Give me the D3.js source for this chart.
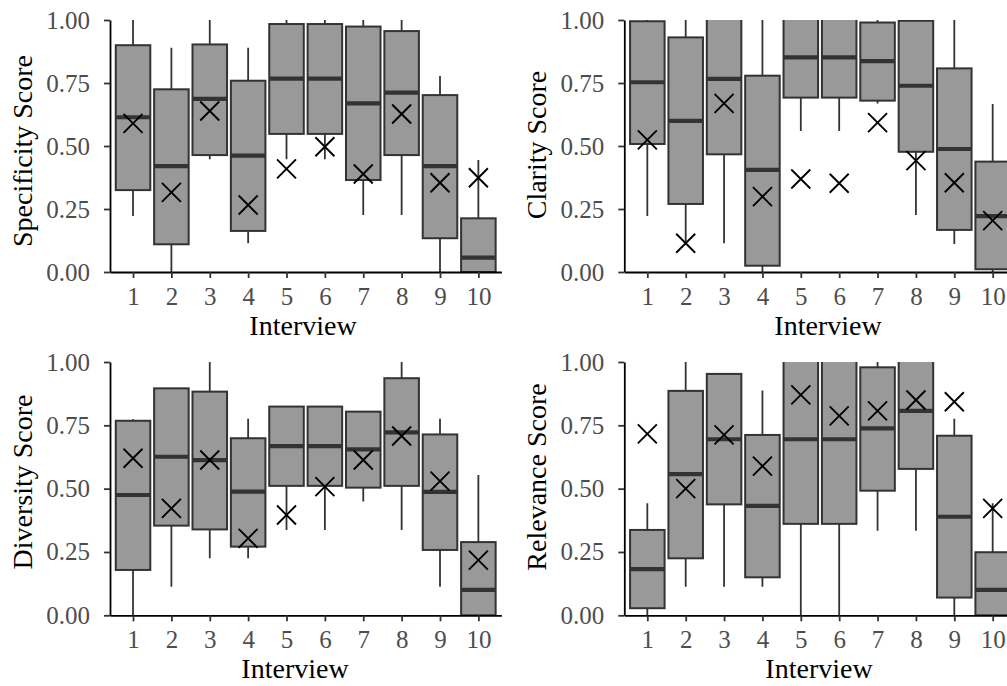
<!DOCTYPE html>
<html>
<head>
<meta charset="utf-8">
<script src="https://cdn.jsdelivr.net/npm/d3@7"></script>
<style>
  body { margin: 0; background: #fff; }
  text { font-family: "Liberation Serif", "Times New Roman", serif; }
</style>
</head>
<body>
<script>
// interviews on the x axis
var interviews = [1, 2, 3, 4, 5, 6, 7, 8, 9, 10];
var yTicks = [0, 0.25, 0.5, 0.75, 1];

// Specificity: whisker low, Q1, median, Q3, whisker high, mean (x marker)
var specLow  = [0.222, 0.0, 0.447, 0.114, 0.447, 0.447, 0.226, 0.226, 0.0, 0.0];
var specQ1   = [0.325, 0.11, 0.464, 0.163, 0.548, 0.548, 0.365, 0.464, 0.134, 0.0];
var specMed  = [0.614, 0.42, 0.687, 0.462, 0.767, 0.767, 0.669, 0.712, 0.42, 0.057];
var specQ3   = [0.90, 0.725, 0.903, 0.759, 0.984, 0.984, 0.974, 0.956, 0.702, 0.213];
var specHigh = [1.0, 0.89, 1.0, 0.89, 1.0, 1.0, 1.0, 1.0, 0.778, 0.444];
var specMean = [0.59, 0.316, 0.639, 0.266, 0.409, 0.497, 0.389, 0.627, 0.354, 0.374];

// Clarity
var clarLow  = [0.222, 0.111, 0.114, 0.0, 0.56, 0.56, 0.669, 0.226, 0.111, 0.0];
var clarQ1   = [0.508, 0.27, 0.467, 0.025, 0.692, 0.692, 0.68, 0.477, 0.167, 0.011];
var clarMed  = [0.753, 0.60, 0.766, 0.405, 0.852, 0.852, 0.837, 0.739, 0.488, 0.222];
var clarQ3   = [0.995, 0.931, 1.03, 0.779, 1.03, 1.03, 0.99, 0.997, 0.808, 0.438];
var clarHigh = [1.0, 1.0, 1.03, 1.0, 1.03, 1.03, 1.0, 1.0, 1.0, 0.667];
var clarMean = [0.524, 0.114, 0.669, 0.299, 0.369, 0.352, 0.593, 0.442, 0.354, 0.204];

// Diversity
var divLow  = [0.0, 0.113, 0.225, 0.225, 0.337, 0.337, 0.449, 0.337, 0.113, 0.0];
var divQ1   = [0.179, 0.354, 0.339, 0.271, 0.511, 0.511, 0.504, 0.511, 0.258, 0.0];
var divMed  = [0.475, 0.626, 0.613, 0.488, 0.668, 0.668, 0.655, 0.722, 0.487, 0.10];
var divQ3   = [0.768, 0.896, 0.883, 0.699, 0.824, 0.824, 0.804, 0.936, 0.714, 0.289];
var divHigh = [0.774, 0.896, 1.0, 0.776, 0.824, 0.824, 0.804, 1.0, 0.776, 0.554];
var divMean = [0.62, 0.422, 0.613, 0.304, 0.396, 0.508, 0.613, 0.708, 0.53, 0.218];

// Relevance
var relLow  = [0.0, 0.113, 0.113, 0.113, 0.0, 0.0, 0.334, 0.334, 0.0, 0.0];
var relQ1   = [0.028, 0.225, 0.438, 0.15, 0.361, 0.361, 0.492, 0.578, 0.07, 0.0];
var relMed  = [0.182, 0.557, 0.695, 0.432, 0.695, 0.695, 0.738, 0.807, 0.389, 0.10];
var relQ3   = [0.337, 0.886, 0.953, 0.712, 1.03, 1.03, 0.979, 1.03, 0.709, 0.249];
var relHigh = [0.442, 1.0, 0.953, 0.887, 1.03, 1.03, 1.0, 1.03, 0.776, 0.442];
var relMean = [0.716, 0.50, 0.712, 0.589, 0.87, 0.787, 0.807, 0.85, 0.843, 0.422];

var svg = d3.select("body").append("svg")
    .attr("width", 1007)
    .attr("height", 686);

var panels = [
  { id: "spec", title: "Specificity Score", left: 110, top: 20, h: 252,
    low: specLow, q1: specQ1, med: specMed, q3: specQ3, high: specHigh, mean: specMean,
    xTitleX: 303, yTitleY: 151 },
  { id: "clar", title: "Clarity Score", left: 624.3, top: 20, h: 252,
    low: clarLow, q1: clarQ1, med: clarMed, q3: clarQ3, high: clarHigh, mean: clarMean,
    xTitleX: 828, yTitleY: 145 },
  { id: "div", title: "Diversity Score", left: 110, top: 362, h: 253.3,
    low: divLow, q1: divQ1, med: divMed, q3: divQ3, high: divHigh, mean: divMean,
    xTitleX: 295, yTitleY: 482 },
  { id: "rel", title: "Relevance Score", left: 624.3, top: 362, h: 253.3,
    low: relLow, q1: relQ1, med: relMed, q3: relQ3, high: relHigh, mean: relMean,
    xTitleX: 819, yTitleY: 477 }
];

var panelWidth = 391.4;

panels.forEach(function(p) {
  var w = panelWidth, h = p.h;

  var x = d3.scalePoint()
      .domain(interviews)
      .range([0, w])
      .padding(0.6);
  var y = d3.scaleLinear()
      .domain([0, 1])
      .range([h, 0]);
  var bw = x.step() * 0.9;

  var g = svg.append("g")
      .attr("transform", "translate(" + p.left + "," + p.top + ")");

  g.append("clipPath").attr("id", "clip-" + p.id)
    .append("rect").attr("x", 0).attr("y", 0).attr("width", w).attr("height", h);

  var rows = interviews.map(function(d, i) {
    return { k: d, low: p.low[i], q1: p.q1[i], med: p.med[i], q3: p.q3[i], high: p.high[i], mean: p.mean[i] };
  });

  var plot = g.append("g").attr("clip-path", "url(#clip-" + p.id + ")");

  var box = plot.selectAll(".box")
      .data(rows)
    .enter().append("g")
      .attr("class", "box");

  // whiskers
  box.append("line")
      .attr("x1", function(d) { return x(d.k); })
      .attr("x2", function(d) { return x(d.k); })
      .attr("y1", function(d) { return y(d.high); })
      .attr("y2", function(d) { return y(d.q3); })
      .attr("stroke", "#333").attr("stroke-width", 1.8);
  box.append("line")
      .attr("x1", function(d) { return x(d.k); })
      .attr("x2", function(d) { return x(d.k); })
      .attr("y1", function(d) { return y(d.q1); })
      .attr("y2", function(d) { return y(d.low); })
      .attr("stroke", "#333").attr("stroke-width", 1.8);

  box.append("rect")
      .attr("x", function(d) { return x(d.k) - bw / 2; })
      .attr("width", bw)
      .attr("y", function(d) { return y(d.q3); })
      .attr("height", function(d) { return y(d.q1) - y(d.q3); })
      .attr("fill", "#999999")
      .attr("stroke", "#333")
      .attr("stroke-width", 2);

  box.append("line")
      .attr("x1", function(d) { return x(d.k) - bw / 2; })
      .attr("x2", function(d) { return x(d.k) + bw / 2; })
      .attr("y1", function(d) { return y(d.med); })
      .attr("y2", function(d) { return y(d.med); })
      .attr("stroke", "#333").attr("stroke-width", 4.2);

  // mean markers (x)
  var s = 9.5;
  box.append("path")
      .attr("d", function(d) {
        var cx = x(d.k), cy = y(d.mean);
        return "M" + (cx - s) + "," + (cy - s) + "L" + (cx + s) + "," + (cy + s) +
               "M" + (cx - s) + "," + (cy + s) + "L" + (cx + s) + "," + (cy - s);
      })
      .attr("stroke", "#000").attr("stroke-width", 1.9).attr("fill", "none");

  // axes
  var xa = g.append("g")
      .attr("transform", "translate(0," + h + ")")
      .call(d3.axisBottom(x).tickSize(6).tickSizeOuter(0).tickPadding(9));
  var ya = g.append("g")
      .call(d3.axisLeft(y).tickValues(yTicks).tickFormat(d3.format(".2f"))
        .tickSize(6).tickSizeOuter(0).tickPadding(14));

  [xa, ya].forEach(function(a) {
    a.select(".domain").attr("stroke", "#000").attr("stroke-width", 1.8);
    a.selectAll(".tick line").attr("stroke", "#333").attr("stroke-width", 1.8);
    a.selectAll(".tick text")
        .attr("fill", "#4d4d4d")
        .style("font-size", "25px")
        .style("font-family", "'Liberation Serif', serif");
  });

  svg.append("text")
      .attr("x", p.xTitleX)
      .attr("y", p.top + h + 63)
      .attr("text-anchor", "middle")
      .style("font-size", "28px")
      .text("Interview");

  svg.append("text")
      .attr("transform", "translate(" + (p.left - 78) + "," + p.yTitleY + ") rotate(-90)")
      .attr("text-anchor", "middle")
      .style("font-size", "28px")
      .text(p.title);
});
</script>
</body>
</html>
